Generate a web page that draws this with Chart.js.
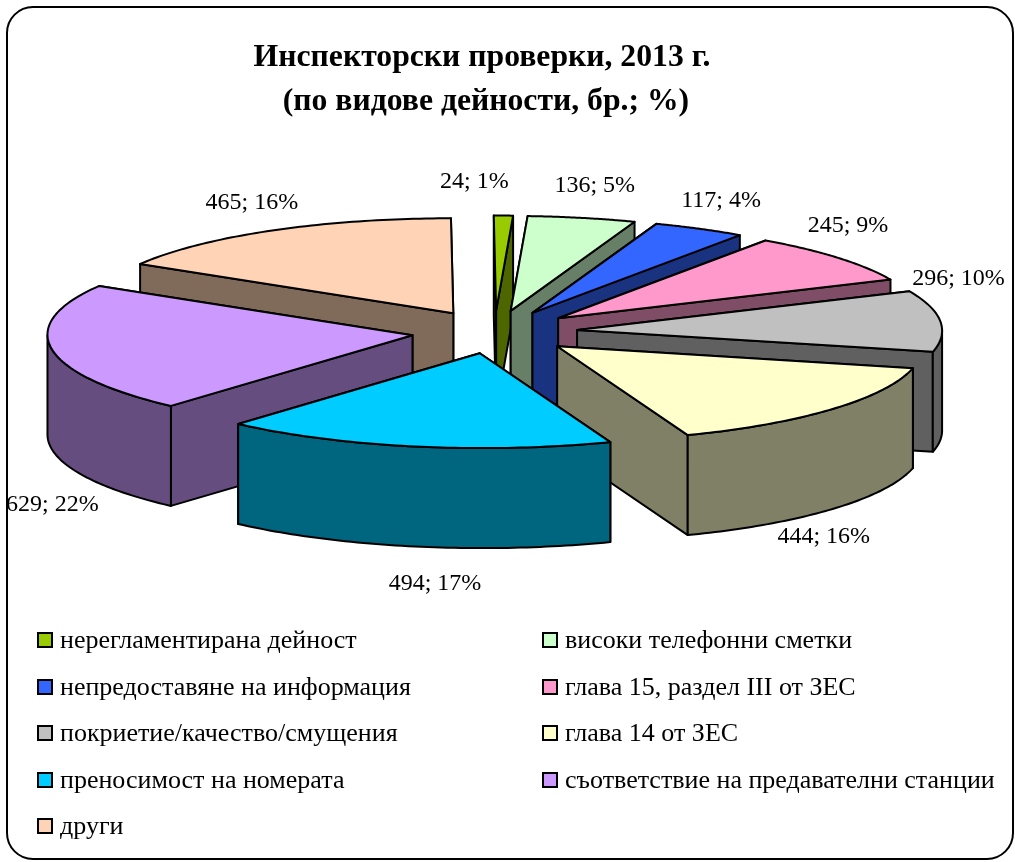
<!DOCTYPE html>
<html lang="bg">
<head>
<meta charset="utf-8">
<title>Инспекторски проверки, 2013 г.</title>
<script src="https://cdn.jsdelivr.net/npm/chart.js@4"></script>
<style>
    html, body { margin: 0; padding: 0; background: #fff; }
    #wrap { position: relative; width: 1015px; height: 862px; overflow: hidden; }
    #frame { position: absolute; left: 6px; top: 6px; width: 1004px; height: 850px; border: 2px solid #000; border-radius: 27px; }
    canvas { position: absolute; left: 0; top: 0; }
    #legend { position: absolute; left: 0; top: 0; font: 26px "Liberation Serif", serif; color: #000; }
    .item { position: absolute; white-space: nowrap; line-height: 28px; height: 28px; padding-left: 24px; }
    .item i { position: absolute; left: 1px; top: 6px; width: 12px; height: 12px; border: 2px solid #000; }
</style>
</head>
<body>
<div id="wrap">
    <div id="frame"></div>
    <canvas id="pie" width="1015" height="862"></canvas>
    <div id="legend"></div>
</div>
<script>
// Datos
const categories = ['нерегламентирана дейност', 'високи телефонни сметки', 'непредоставяне на информация', 'глава 15, раздел III от ЗЕС', 'покриетие/качество/смущения', 'глава 14 от ЗЕС', 'преносимост на номерата', 'съответствие на предавателни станции', 'други'];
const values = [24, 136, 117, 245, 296, 444, 494, 629, 465];
const percents = [1, 5, 4, 9, 10, 16, 17, 22, 16];
const topColors = ['#99CC00', '#CCFFCC', '#3366FF', '#FF99CC', '#C0C0C0', '#FFFFCC', '#00CCFF', '#CC99FF', '#FFD3B5'];
const wallColors = ['#4D6600', '#667F66', '#1A3380', '#804D66', '#606060', '#808066', '#006680', '#664D80', '#806A5A'];

// Layout del pastel 3D
const PIE_CX = 494.5;
const PIE_CY = 332;
const TILT = 0.26;
const DEPTH = 100;
const EXPLODE = 83;
const SKEW = 0.025; // el original tiene algo de perspectiva
const labelNudge = [[-32, -34], [10, -32], [19, -28], [8, -32], [18, -42], [-7, 28], [23, 37], [1, 56], [-23, -28]];

function slicePath(ctx, pts) {
    ctx.beginPath();
    pts.forEach((p, i) => i ? ctx.lineTo(p[0], p[1]) : ctx.moveTo(p[0], p[1]));
    ctx.closePath();
    ctx.fill();
    ctx.stroke();
}

const pie3d = {
    id: 'pie3d',
    beforeDatasetsDraw(chart) {
        const ctx = chart.ctx;
        const arcs = chart.getDatasetMeta(0).data;

        const slices = arcs.map((arc, i) => {
            const { startAngle, endAngle, outerRadius } = arc.getProps(['startAngle', 'endAngle', 'outerRadius'], true);
            const mid = (startAngle + endAngle) / 2;
            const off = arc.options.offset;
            const tipX = PIE_CX + Math.cos(mid) * off;
            const tipY = PIE_CY + Math.sin(mid) * off * TILT;
            const flat = a => [tipX + Math.cos(a) * outerRadius, tipY + Math.sin(a) * outerRadius * TILT];
            const skew = p => [p[0] + (p[1] - PIE_CY) * SKEW, p[1]];
            const rim = a => skew(flat(a));
            return { i, startAngle, endAngle, mid, tip: skew([tipX, tipY]), flat, rim };
        });

        // De atras hacia adelante
        const order = [...slices].sort((a, b) => Math.sin(a.mid) - Math.sin(b.mid));

        ctx.save();
        ctx.lineWidth = 2;
        ctx.lineJoin = 'round';
        ctx.strokeStyle = '#000';

        order.forEach(s => {
            const down = p => [p[0], p[1] + DEPTH];
            ctx.fillStyle = wallColors[s.i];

            // Paredes radiales, primero la que queda detras
            [s.startAngle, s.endAngle]
                .map(s.rim)
                .sort((a, b) => a[1] - b[1])
                .forEach(p => slicePath(ctx, [s.tip, p, down(p), down(s.tip)]));

            // Pared exterior (solo la mitad frontal)
            const from = Math.max(s.startAngle, 0);
            const to = Math.min(s.endAngle, Math.PI);
            if (to > from) {
                const rimPts = [];
                for (let k = 0; k <= 60; k++) rimPts.push(s.rim(from + (to - from) * k / 60));
                slicePath(ctx, rimPts.concat(rimPts.map(down).reverse()));
            }

            // Cara superior
            const topPts = [s.tip];
            for (let k = 0; k <= 60; k++) topPts.push(s.rim(s.startAngle + (s.endAngle - s.startAngle) * k / 60));
            ctx.fillStyle = topColors[s.i];
            slicePath(ctx, topPts);
        });

        // Etiquetas
        ctx.fillStyle = '#000';
        ctx.font = '24px "Liberation Serif", serif';
        ctx.textAlign = 'center';
        ctx.textBaseline = 'middle';
        slices.forEach(s => {
            const p = s.flat(s.mid);
            const y = p[1] + (Math.sin(s.mid) > 0 ? DEPTH : 0) + labelNudge[s.i][1];
            ctx.fillText(`${values[s.i]}; ${percents[s.i]}%`, p[0] + labelNudge[s.i][0], y);
        });
        ctx.restore();
        return false;
    }
};

new Chart(document.getElementById('pie').getContext('2d'), {
    type: 'pie',
    data: {
        labels: categories,
        datasets: [{
            data: values,
            backgroundColor: topColors,
            borderColor: '#000',
            offset: EXPLODE,
            radius: 365
        }]
    },
    plugins: [pie3d],
    options: {
        responsive: false,
        animation: false,
        events: [],
        layout: { padding: { right: 51, bottom: 320 } },
        plugins: {
            legend: { display: false },
            tooltip: { enabled: false },
            title: {
                display: true,
                fullSize: false,
                text: ['Инспекторски проверки, 2013 г.', ' (по видове дейности, бр.; %)'],
                color: '#000',
                font: { family: '"Liberation Serif", serif', size: 31.7, weight: 'bold', lineHeight: 1.39 },
                padding: { top: 36, bottom: 10 }
            }
        }
    }
});

// Leyenda en dos columnas, en el orden del original
const legendEl = document.getElementById('legend');
categories.forEach((name, i) => {
    const item = document.createElement('div');
    item.className = 'item';
    item.style.left = (i % 2 ? 541 : 36) + 'px';
    item.style.top = (626 + Math.floor(i / 2) * 46.6) + 'px';
    item.innerHTML = `<i style="background:${topColors[i]}"></i>${name}`;
    legendEl.appendChild(item);
});
</script>
</body>
</html>
